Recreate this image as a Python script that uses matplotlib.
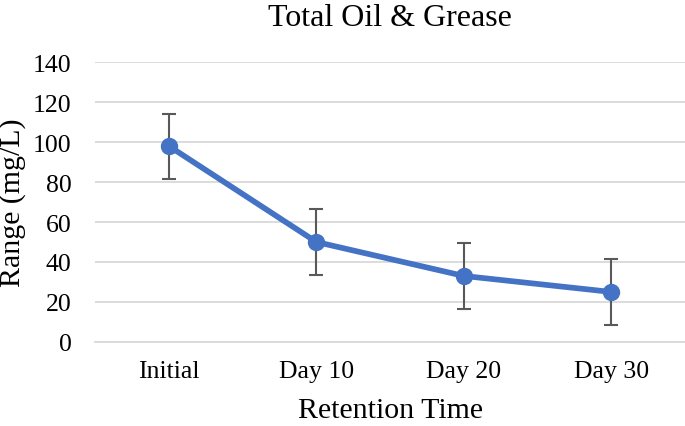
import matplotlib.pyplot as plt
import numpy as np

# data
days = ["Initial", "Day 10", "Day 20", "Day 30"]
oil_grease = [98, 50, 33, 25]
err = [16.3, 16.3, 16.3, 16.3]

plt.rcParams['font.family'] = ['Liberation Serif', 'DejaVu Serif']

fig = plt.figure(figsize=(6.85, 4.27), dpi=100)
ax = fig.add_axes([0.139, 0.197, 0.861, 0.655])

x = np.arange(len(days))
# error bars first so the markers sit on top
ax.errorbar(x, oil_grease, yerr=err, fmt='none', ecolor='#595959',
            elinewidth=1.5, capsize=5, capthick=1.5, zorder=2)
ax.plot(x, oil_grease, color='#4472C4', lw=4.1, marker='o', ms=11.5, zorder=3)

ax.set_xlim(-0.5, 3.5)
ax.set_ylim(0, 140)
ax.set_yticks(np.arange(0, 141, 20))
ax.set_xticks(x)
ax.set_xticklabels(days)
ax.grid(axis='y', color='#d9d9d9', lw=1.3, zorder=0)
ax.set_axisbelow(True)
for s in ['top', 'right', 'left']:
    ax.spines[s].set_visible(False)
ax.spines['bottom'].set_color('#d9d9d9')
ax.spines['bottom'].set_linewidth(1.3)
ax.tick_params(axis='both', length=0, labelsize=18.5)
ax.tick_params(axis='x', pad=13)
ax.tick_params(axis='y', pad=17)

ax.set_title("Total Oil & Grease", fontsize=23, pad=27)
ax.set_xlabel("Retention Time", fontsize=21.5, labelpad=11)
ax.set_ylabel("Range (mg/L)", fontsize=21.5, labelpad=5)

plt.savefig("out.png", dpi=100)
